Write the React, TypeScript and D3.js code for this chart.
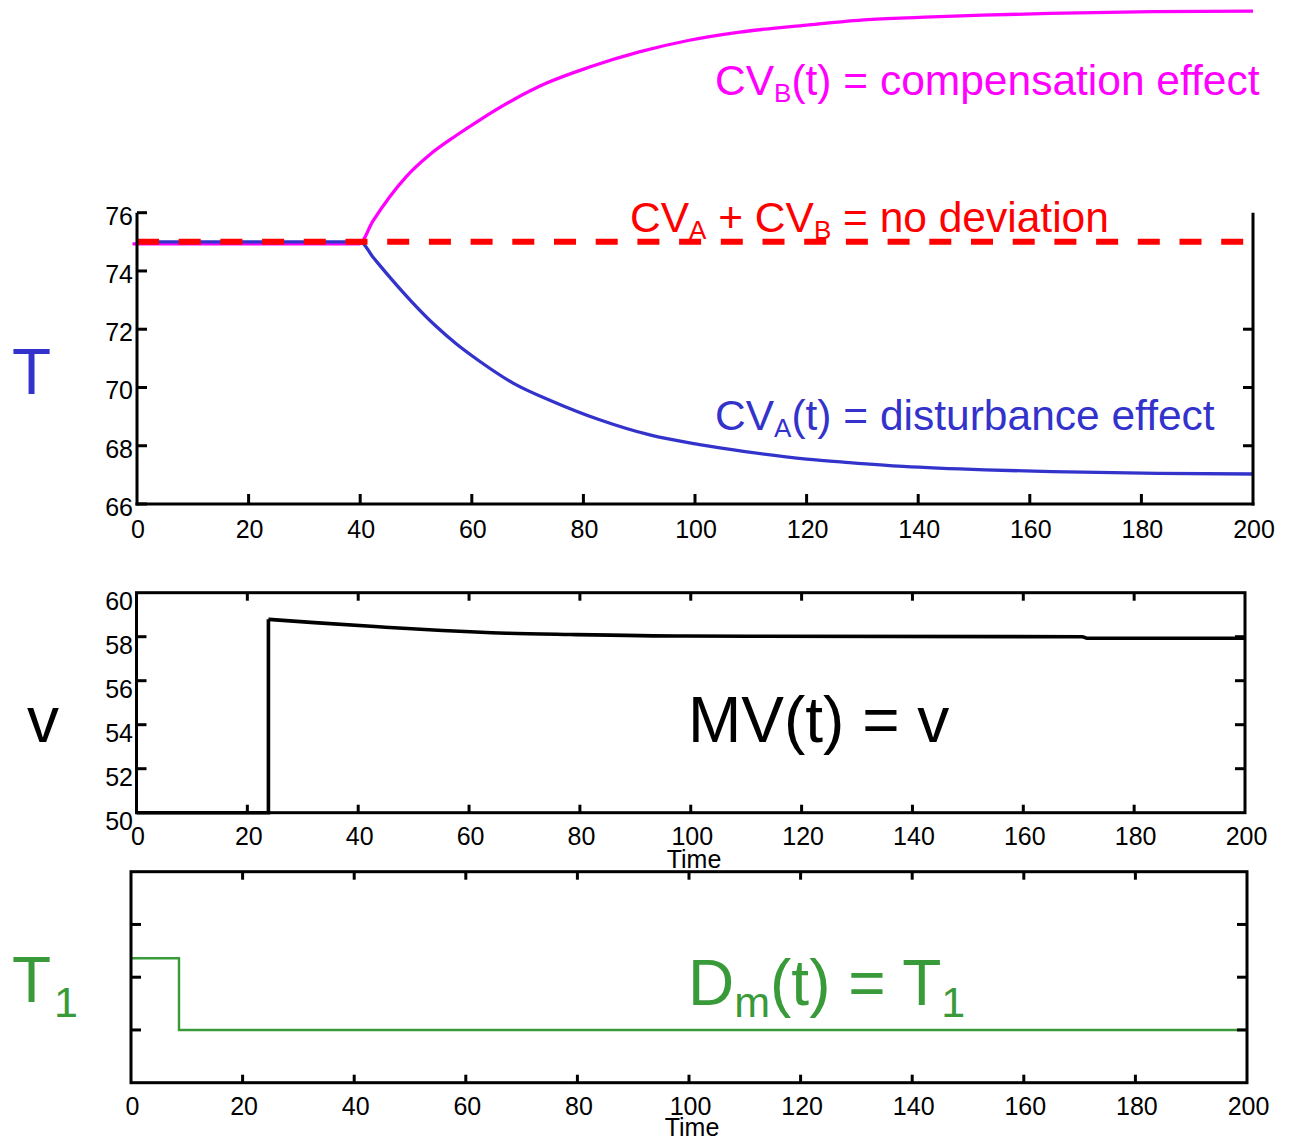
import React from "react";
import * as d3 from "d3";

// ---- data ----
const xTicks = [0, 20, 40, 60, 80, 100, 120, 140, 160, 180, 200];
const tTicks = [66, 68, 70, 72, 74, 76];
const vTicks = [50, 52, 54, 56, 58, 60];
const t1Ticks = [1, 2, 3];

const timeCVA = [0, 40, 42.3, 45.6, 49.2, 53.6, 57.2, 61.4, 67.4, 74.5, 82.9, 91.9, 100.8, 109, 120, 127.7, 137.3, 152, 164, 183, 200];
const cvA = [75.0, 75.0, 74.47, 73.72, 72.95, 72.1, 71.5, 70.9, 70.15, 69.52, 68.89, 68.37, 68.04, 67.8, 67.54, 67.42, 67.29, 67.17, 67.11, 67.05, 67.03];

const timeCVB = [-0.8, 39.8, 42.3, 45.3, 48.3, 52.5, 57.2, 61.4, 67.4, 73.3, 81.1, 90, 99, 108, 120, 131, 142.5, 151.5, 163.5, 182, 200];
const cvB = [74.93, 74.93, 75.72, 76.55, 77.25, 78.0, 78.65, 79.18, 79.87, 80.44, 81.0, 81.52, 81.92, 82.2, 82.44, 82.63, 82.72, 82.78, 82.84, 82.9, 82.92];

const timeSP = [0, 200];
const setPoint = [75, 75];

const timeMV = [0, 23.8, 23.8, 32.1, 43.7, 55.2, 66.8, 78.3, 99, 170.6, 171.5, 200];
const mv = [50, 50, 58.79, 58.64, 58.45, 58.28, 58.16, 58.1, 58.03, 58.0, 57.93, 57.93];

const timeT1 = [0, 8.6, 8.6, 200];
const t1 = [2.36, 2.36, 1.0, 1.0];

const FONT = "'Liberation Sans', Arial, Helvetica, sans-serif";
const BLUE = "#3333cc";
const MAGENTA = "#ff00ff";
const RED = "#ff0000";
const GREEN = "#389a38";

function zip(xs: number[], ys: number[]): [number, number][] {
  return xs.map((x, i) => [x, ys[i]]);
}

export default function App() {
  // panel 1
  const x1 = d3.scaleLinear().domain([0, 200]).range([137, 1253]);
  const y1 = d3.scaleLinear().domain([66, 76]).range([504, 212.7]);
  // panel 2
  const x2 = d3.scaleLinear().domain([0, 200]).range([136.5, 1245]);
  const y2 = d3.scaleLinear().domain([50, 60]).range([812.7, 592.7]);
  // panel 3
  const x3 = d3.scaleLinear().domain([0, 200]).range([131, 1247]);
  const y3 = d3.scaleLinear().domain([0, 4]).range([1082.7, 871.7]);

  const smooth1 = d3.line<[number, number]>().x((d) => x1(d[0])).y((d) => y1(d[1])).curve(d3.curveMonotoneX);
  const lin1 = d3.line<[number, number]>().x((d) => x1(d[0])).y((d) => y1(d[1]));
  const lin2 = d3.line<[number, number]>().x((d) => x2(d[0])).y((d) => y2(d[1]));
  const smooth2 = d3.line<[number, number]>().x((d) => x2(d[0])).y((d) => y2(d[1])).curve(d3.curveMonotoneX);
  const lin3 = d3.line<[number, number]>().x((d) => x3(d[0])).y((d) => y3(d[1]));

  const mvPts = zip(timeMV, mv);
  const mvStep = mvPts.slice(0, 3);
  const mvDecay = mvPts.slice(2);

  const axisW = 3;

  return (
    <svg width={1290} height={1139} style={{ position: "absolute", left: 0, top: 0, background: "#fff" }} fontFamily={FONT}>
      <rect x={0} y={0} width={1290} height={1139} fill="#fff" />

      {/* ===== Panel 1 ===== */}
      <path d={smooth1(zip(timeCVB, cvB)) || ""} fill="none" stroke={MAGENTA} strokeWidth={3.3} />
      <path d={smooth1(zip(timeCVA, cvA)) || ""} fill="none" stroke={BLUE} strokeWidth={3.3} />
      <path d={lin1(zip(timeSP, setPoint)) || ""} fill="none" stroke={RED} strokeWidth={6} strokeDasharray="22 19.7" />
      {/* axes */}
      <g stroke="#000" strokeWidth={axisW} fill="none">
        <line x1={x1(0)} x2={x1(0)} y1={y1(76)} y2={y1(66) + 1.5} />
        <line x1={x1(200)} x2={x1(200)} y1={y1(76)} y2={y1(66) + 1.5} />
        <line x1={x1(0) - 1.5} x2={x1(200) + 1.5} y1={y1(66)} y2={y1(66)} />
        {tTicks.map((t) => (
          <line key={"l1" + t} x1={x1(0)} x2={x1(0) + 10} y1={y1(t)} y2={y1(t)} />
        ))}
        {[68, 70, 72].map((t) => (
          <line key={"r1" + t} x1={x1(200)} x2={x1(200) - 10} y1={y1(t)} y2={y1(t)} />
        ))}
        {xTicks.slice(1, -1).map((t) => (
          <line key={"b1" + t} x1={x1(t)} x2={x1(t)} y1={y1(66)} y2={y1(66) - 10} />
        ))}
      </g>
      <g fontSize={25} fill="#000">
        {tTicks.map((t) => (
          <text key={"lt1" + t} x={133} y={y1(t) + 12} textAnchor="end">{t}</text>
        ))}
        {xTicks.map((t) => (
          <text key={"xt1" + t} x={x1(t) + 1} y={538} textAnchor="middle">{t}</text>
        ))}
      </g>
      <text x={12} y={394} fontSize={64} fill={BLUE}>T</text>
      <text x={715} y={95} fontSize={42.5} fill={MAGENTA}>
        CV<tspan fontSize={26} dy={7}>B</tspan><tspan dy={-7}>(t) = compensation effect</tspan>
      </text>
      <text x={630} y={232} fontSize={42.5} fill={RED}>
        CV<tspan fontSize={26} dy={7}>A</tspan><tspan dy={-7}> + CV</tspan><tspan fontSize={26} dy={7}>B</tspan><tspan dy={-7}> = no deviation</tspan>
      </text>
      <text x={715} y={430} fontSize={42.5} fill={BLUE}>
        CV<tspan fontSize={26} dy={7}>A</tspan><tspan dy={-7}>(t) = disturbance effect</tspan>
      </text>

      {/* ===== Panel 2 ===== */}
      <path d={lin2(mvStep) || ""} fill="none" stroke="#000" strokeWidth={3.6} />
      <path d={smooth2(mvDecay) || ""} fill="none" stroke="#000" strokeWidth={3.6} />
      <g stroke="#000" strokeWidth={axisW} fill="none">
        <rect x={x2(0)} y={y2(60)} width={x2(200) - x2(0)} height={y2(50) - y2(60)} />
        {vTicks.slice(1, -1).map((t) => (
          <g key={"t2" + t}>
            <line x1={x2(0)} x2={x2(0) + 10} y1={y2(t)} y2={y2(t)} />
            <line x1={x2(200)} x2={x2(200) - 10} y1={y2(t)} y2={y2(t)} />
          </g>
        ))}
        {xTicks.slice(1, -1).map((t) => (
          <g key={"x2" + t}>
            <line x1={x2(t)} x2={x2(t)} y1={y2(50)} y2={y2(50) - 8} />
            <line x1={x2(t)} x2={x2(t)} y1={y2(60)} y2={y2(60) + 8} />
          </g>
        ))}
      </g>
      <g fontSize={25} fill="#000">
        {vTicks.map((t) => (
          <text key={"lt2" + t} x={133} y={y2(t) + 17} textAnchor="end">{t}</text>
        ))}
        {xTicks.map((t) => (
          <text key={"xt2" + t} x={x2(t) + 1.5} y={845} textAnchor="middle">{t}</text>
        ))}
        <text x={694} y={868} textAnchor="middle">Time</text>
      </g>
      <text x={27} y={742} fontSize={64} fill="#000">v</text>
      <text x={688} y={742} fontSize={64} fill="#000">MV(t) = v</text>

      {/* ===== Panel 3 ===== */}
      <path d={lin3(zip(timeT1, t1)) || ""} fill="none" stroke={GREEN} strokeWidth={2.4} />
      <g stroke="#000" strokeWidth={axisW} fill="none">
        <rect x={x3(0)} y={y3(4)} width={x3(200) - x3(0)} height={y3(0) - y3(4)} />
        {t1Ticks.map((t) => (
          <g key={"t3" + t}>
            <line x1={x3(0)} x2={x3(0) + 10} y1={y3(t)} y2={y3(t)} />
            <line x1={x3(200)} x2={x3(200) - 10} y1={y3(t)} y2={y3(t)} />
          </g>
        ))}
        {xTicks.slice(1, -1).map((t) => (
          <g key={"x3" + t}>
            <line x1={x3(t)} x2={x3(t)} y1={y3(0)} y2={y3(0) - 8} />
            <line x1={x3(t)} x2={x3(t)} y1={y3(4)} y2={y3(4) + 8} />
          </g>
        ))}
      </g>
      <g fontSize={25} fill="#000">
        {xTicks.map((t) => (
          <text key={"xt3" + t} x={x3(t) + 1.5} y={1115} textAnchor="middle">{t}</text>
        ))}
        <text x={692} y={1136} textAnchor="middle">Time</text>
      </g>
      <text x={12} y={1002} fontSize={64} fill={GREEN}>
        T<tspan fontSize={43} dy={15} dx={3}>1</tspan>
      </text>
      <text x={688} y={1005} fontSize={64} fill={GREEN}>
        D<tspan fontSize={43} dy={12}>m</tspan><tspan dy={-12}>(t) = T</tspan><tspan fontSize={43} dy={12}>1</tspan>
      </text>
    </svg>
  );
}
